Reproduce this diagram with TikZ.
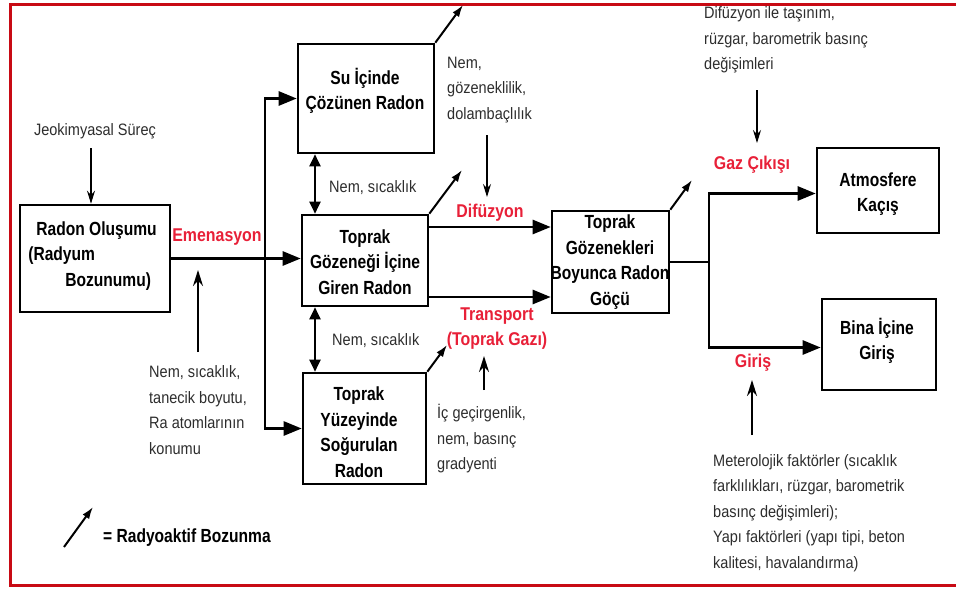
\documentclass[tikz,border=0pt]{standalone}
\usepackage{fontspec}
\setmainfont{Liberation Sans}[FakeStretch=0.88]
\newfontfamily\boxf{Liberation Sans}[FakeStretch=0.82]
\newfontfamily\redf{Liberation Sans}[FakeStretch=0.86]
\usetikzlibrary{arrows.meta}
\definecolor{framered}{RGB}{200,10,20}
\definecolor{labred}{RGB}{232,32,56}
\definecolor{txtgray}{RGB}{45,45,45}
\begin{document}
\begin{tikzpicture}[x=1pt,y=-1pt,
  box/.style={draw, line width=2.6pt, inner sep=0pt},
  btxt/.style={font=\boxf\fontsize{19}{25.5}\selectfont\bfseries, align=center, inner sep=0pt},
  rtxt/.style={font=\redf\fontsize{18.5}{25.5}\selectfont\bfseries, text=labred, align=center, inner sep=0pt},
  ntxt/.style={font=\fontsize{16.5}{25.5}\selectfont, text=txtgray, align=left, inner sep=0pt, anchor=west},
  conn/.style={line width=2.6pt},
  tri/.style={-{Triangle[length=18pt,width=14pt]}},
  dbl/.style={line width=2.2pt, {Triangle[length=12pt,width=11pt]}-{Triangle[length=12pt,width=11pt]}},
  decay/.style={line width=2pt, -{Latex[length=12pt,width=8pt]}},
  thinarr/.style={line width=1.1pt, -{Stealth[length=13pt,width=8pt]}},
  medarr/.style={line width=1.8pt, -{Stealth[length=16pt,width=10pt]}},
]
\useasboundingbox (0,0) rectangle (956,589);
\clip (0,0) rectangle (956,589);
\draw[framered, line width=3pt] (10,4) rectangle (990,585);

% boxes
\node[box, minimum width=150pt, minimum height=107pt] (radon) at (95,258.5) {};
\node[box, minimum width=136pt, minimum height=109pt] (su) at (366,98.5) {};
\node[box, minimum width=126pt, minimum height=91pt] (goz) at (365,260.5) {};
\node[box, minimum width=123pt, minimum height=111pt] (yuz) at (364.5,428.5) {};
\node[box, minimum width=117pt, minimum height=102pt] (gocu) at (610.5,262) {};
\node[box, minimum width=122pt, minimum height=85pt] (atmos) at (878,190.5) {};
\node[box, minimum width=114pt, minimum height=91pt] (bina) at (879,344.5) {};

% box texts
\node[btxt, align=left] (radonT) at (92.5,256) {\hspace*{8pt}Radon Oluşumu\\(Radyum\\\hspace*{37pt}Bozunumu)};
\node[btxt] (suT) at (365,91) {Su İçinde\\Çözünen Radon};
\node[btxt] (gozT) at (365,262) {Toprak\\Gözeneği İçine\\Giren Radon};
\node[btxt] (yuzT) at (359,432) {Toprak\\Yüzeyinde\\Soğurulan\\Radon};
\node[btxt] (gocuT) at (610,262) {Toprak\\Gözenekleri\\Boyunca Radon\\Göçü};
\node[btxt] (atmosT) at (878,194) {Atmosfere\\Kaçış};
\node[btxt] (binaT) at (877,341) {Bina İçine\\Giriş};

% red labels
\node[rtxt] (emen) at (217,237) {Emenasyon};
\node[rtxt] (difu) at (490,213) {Difüzyon};
\node[rtxt] (trans) at (497,328.5) {Transport\\(Toprak Gazı)};
\node[rtxt] (gaz) at (752,165) {Gaz Çıkışı};
\node[rtxt] (giris) at (753,363) {Giriş};

% plain texts
\node[ntxt, anchor=center] (jeo) at (95,131) {Jeokimyasal Süreç};
\node[ntxt] (nem1) at (329,188) {Nem, sıcaklık};
\node[ntxt] (nem2) at (332,341) {Nem, sıcaklık};
\node[ntxt] (nemgoz) at (447,90) {Nem,\\gözeneklilik,\\dolambaçlılık};
\node[ntxt] (difile) at (704,40) {Difüzyon ile taşınım,\\rüzgar, barometrik basınç\\değişimleri};
\node[ntxt] (nemsic) at (149,410) {Nem, sıcaklık,\\tanecik boyutu,\\Ra atomlarının\\konumu};
\node[ntxt] (icgec) at (437,439) {İç geçirgenlik,\\nem, basınç\\gradyenti};
\node[ntxt] (meteo) at (713,513) {Meterolojik faktörler (sıcaklık\\farklılıkları, rüzgar, barometrik\\basınç değişimleri);\\Yapı faktörleri (yapı tipi, beton\\kalitesi, havalandırma)};
\node[btxt, anchor=west] (legend) at (103,538) {= Radyoaktif Bozunma};

% helper coordinates
\coordinate (trunk) at (265,0);
\coordinate (dblx) at (315,0);
\coordinate (dify) at (0,227);
\coordinate (trpy) at (0,297);
\coordinate (branch) at (709,0);

% main connectors
\draw[conn, tri] (radon.east) -- (radon.east -| goz.west);
\draw[conn, tri] (trunk |- radon.east) |- (su.west);
\draw[conn, tri] (trunk |- radon.east) |- (yuz.west);
\draw[dbl] (su.south -| dblx) -- (goz.north -| dblx);
\draw[dbl] (goz.south -| dblx) -- (yuz.north -| dblx);
\draw[conn, tri] (goz.east |- dify) -- (gocu.west |- dify);
\draw[conn, tri] (goz.east |- trpy) -- (gocu.west |- trpy);
\draw[conn] (gocu.east) -- (gocu.east -| branch);
\draw[conn, tri] (gocu.east -| branch) |- ([yshift=-3pt]atmos.west);
\draw[conn, tri] (gocu.east -| branch) |- ([yshift=-3pt]bina.west);

% radioactive decay arrows
\coordinate (d1) at (463,5);
\coordinate (d2) at (462,170);
\coordinate (d3) at (447,345);
\coordinate (d4) at (692,180);
\draw[decay] (su.north east) -- (d1);
\draw[decay] (goz.north east) -- (d2);
\draw[decay] (yuz.north east) -- (d3);
\draw[decay] (gocu.north east) -- (d4);
\coordinate (lg1) at (64,547);
\coordinate (lg2) at (93,507);
\draw[decay] (lg1) -- (lg2);

% factor arrows
\coordinate (j1) at (91,148);
\draw[thinarr] (j1) -- (j1 |- radon.north);
\coordinate (n1) at (198,352);
\coordinate (n2) at (198,270);
\draw[medarr] (n1) -- (n2);
\coordinate (g1) at (487,135);
\coordinate (g2) at (487,197);
\draw[thinarr] (g1) -- (g2);
\coordinate (i1) at (484,390);
\coordinate (i2) at (484,356);
\draw[medarr] (i1) -- (i2);
\coordinate (f1) at (757,90);
\coordinate (f2) at (757,143);
\draw[thinarr] (f1) -- (f2);
\coordinate (m1) at (752,435);
\coordinate (m2) at (752,380);
\draw[medarr] (m1) -- (m2);
\end{tikzpicture}
\end{document}
